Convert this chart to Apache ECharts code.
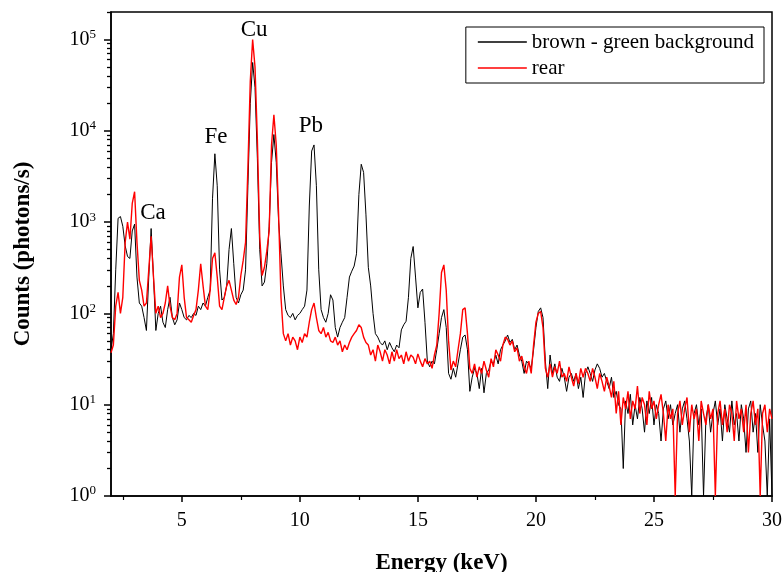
<!DOCTYPE html>
<html>
<head>
<meta charset="utf-8">
<script src="https://cdn.jsdelivr.net/npm/echarts@6/dist/echarts.min.js"></script>
<style>
	html, body { margin: 0; padding: 0; background: #fff; }
	#chart { width: 784px; height: 572px; }
</style>
</head>
<body>
<div id="chart"></div>
<script>
// energy channels (keV)
var energy = [
	2.0, 2.1, 2.2, 2.3, 2.4, 2.5, 2.6, 2.7, 2.8, 2.9,
	3.0, 3.1, 3.2, 3.3, 3.4, 3.5, 3.6, 3.7, 3.8, 3.9,
	4.0, 4.1, 4.2, 4.3, 4.4, 4.5, 4.6, 4.7, 4.8, 4.9,
	5.0, 5.1, 5.2, 5.3, 5.4, 5.5, 5.6, 5.7, 5.8, 5.9,
	6.0, 6.1, 6.2, 6.3, 6.4, 6.5, 6.6, 6.7, 6.8, 6.9,
	7.0, 7.1, 7.2, 7.3, 7.4, 7.5, 7.6, 7.7, 7.8, 7.9,
	8.0, 8.1, 8.2, 8.3, 8.4, 8.5, 8.6, 8.7, 8.8, 8.9,
	9.0, 9.1, 9.2, 9.3, 9.4, 9.5, 9.6, 9.7, 9.8, 9.9,
	10.0, 10.1, 10.2, 10.3, 10.4, 10.5, 10.6, 10.7, 10.8, 10.9,
	11.0, 11.1, 11.2, 11.3, 11.4, 11.5, 11.6, 11.7, 11.8, 11.9,
	12.0, 12.1, 12.2, 12.3, 12.4, 12.5, 12.6, 12.7, 12.8, 12.9,
	13.0, 13.1, 13.2, 13.3, 13.4, 13.5, 13.6, 13.7, 13.8, 13.9,
	14.0, 14.1, 14.2, 14.3, 14.4, 14.5, 14.6, 14.7, 14.8, 14.9,
	15.0, 15.1, 15.2, 15.3, 15.4, 15.5, 15.6, 15.7, 15.8, 15.9,
	16.0, 16.1, 16.2, 16.3, 16.4, 16.5, 16.6, 16.7, 16.8, 16.9,
	17.0, 17.1, 17.2, 17.3, 17.4, 17.5, 17.6, 17.7, 17.8, 17.9,
	18.0, 18.1, 18.2, 18.3, 18.4, 18.5, 18.6, 18.7, 18.8, 18.9,
	19.0, 19.1, 19.2, 19.3, 19.4, 19.5, 19.6, 19.7, 19.8, 19.9,
	20.0, 20.1, 20.2, 20.3, 20.4, 20.5, 20.6, 20.7, 20.8, 20.9,
	21.0, 21.1, 21.2, 21.3, 21.4, 21.5, 21.6, 21.7, 21.8, 21.9,
	22.0, 22.1, 22.2, 22.3, 22.4, 22.5, 22.6, 22.7, 22.8, 22.9,
	23.0, 23.1, 23.2, 23.3, 23.4, 23.5, 23.6, 23.7, 23.8, 23.9,
	24.0, 24.1, 24.2, 24.3, 24.4, 24.5, 24.6, 24.7, 24.8, 24.9,
	25.0, 25.1, 25.2, 25.3, 25.4, 25.5, 25.6, 25.7, 25.8, 25.9,
	26.0, 26.1, 26.2, 26.3, 26.4, 26.5, 26.6, 26.7, 26.8, 26.9,
	27.0, 27.1, 27.2, 27.3, 27.4, 27.5, 27.6, 27.7, 27.8, 27.9,
	28.0, 28.1, 28.2, 28.3, 28.4, 28.5, 28.6, 28.7, 28.8, 28.9,
	29.0, 29.1, 29.2, 29.3, 29.4, 29.5, 29.6, 29.7, 29.8, 29.9,
	30.0
];

// brown - green background (black)
var brownGreen = [
	40, 60, 300, 1100, 1150, 900, 550, 420, 400, 800,
	950, 250, 130, 120, 90, 65, 250, 850, 250, 65,
	100, 120, 80, 70, 110, 150, 90, 75, 85, 130,
	110, 90, 85, 95, 90, 100, 95, 120, 110, 130,
	120, 150, 180, 1800, 5600, 2500, 300, 140, 150, 200,
	500, 850, 350, 150, 130, 160, 180, 300, 2500, 20000,
	56000, 30000, 5000, 500, 200, 220, 350, 900, 4500, 9100,
	4500, 1000, 450, 200, 110, 95, 90, 100, 85, 95,
	100, 110, 120, 180, 1500, 6000, 7000, 2500, 300, 110,
	90, 80, 100, 160, 140, 70, 55, 70, 80, 90,
	150, 250, 290, 330, 450, 2000, 4300, 3500, 1200, 320,
	200, 100, 60, 55, 48, 45, 50, 40, 48, 42,
	38, 45, 42, 66, 75, 82, 150, 400, 540, 250,
	115, 170, 185, 80, 30, 26, 30, 28, 40, 60,
	90, 110, 70, 22, 19, 25, 20, 28, 40, 55,
	58, 40, 14, 20, 25, 22, 15, 25, 13.5, 22,
	24, 30, 28, 35, 28, 40, 45, 50, 58, 48,
	52, 40, 45, 35, 30, 22, 30, 28, 25, 40,
	70, 105, 115, 90, 30, 15, 35, 22, 28, 20,
	18, 25, 20, 14, 20, 22, 18, 22, 15, 20,
	12, 22, 26, 22, 18, 24, 28, 25, 20, 22,
	18, 15, 20, 12, 14, 10, 9, 2, 11, 8,
	13, 6, 10, 7, 12, 9, 5, 11, 8, 12,
	6, 10, 8, 4, 9, 11, 7, 10, 6, 8,
	10, 5, 9, 11, 7, 4, 1, 8, 10, 6,
	9, 1, 7, 10, 5, 8, 11, 6, 9, 4,
	10, 7, 5, 11, 6, 8, 4, 10, 7, 3,
	9, 11, 5, 8, 3, 10, 6, 4, 1, 7,
	1
];

// rear (red)
var rear = [
	37, 45, 120, 170, 100, 150, 600, 1000, 650, 1600,
	2150, 600, 230, 180, 120, 130, 300, 700, 250, 100,
	120, 90, 100, 130, 200, 120, 90, 85, 100, 250,
	340, 150, 90, 85, 80, 95, 110, 180, 350, 200,
	120, 110, 180, 400, 460, 250, 120, 110, 150, 200,
	230, 180, 140, 125, 150, 260, 380, 600, 4000, 35000,
	100000, 50000, 8000, 700, 260, 320, 480, 800, 7000, 15000,
	7000, 1200, 150, 60, 50, 60, 45, 55, 50, 40,
	55, 48, 60, 55, 80, 110, 130, 90, 65, 60,
	70, 55, 62, 50, 48, 55, 45, 50, 38, 45,
	40, 48, 55, 60, 65, 75, 70, 55, 48, 45,
	35, 40, 30, 45, 38, 30, 40, 35, 28, 38,
	30, 40, 32, 35, 28, 38, 30, 35, 33, 28,
	36, 30, 26, 32, 28, 30, 25, 35, 45, 100,
	280, 340, 180, 50, 24, 30, 26, 40, 60, 110,
	115, 60, 25, 22, 28, 20, 26, 22, 30, 24,
	20, 32, 26, 40, 35, 30, 45, 55, 52, 45,
	50, 38, 42, 30, 34, 26, 22, 30, 22, 45,
	80, 100, 105, 70, 25, 20, 28, 20, 26, 22,
	30, 20, 22, 18, 26, 20, 16, 22, 17, 25,
	20, 25, 22, 18, 25, 20, 15, 22, 18, 14,
	20, 16, 12, 18, 8, 14, 6, 12, 9, 14,
	7, 11, 9, 16, 8, 12, 10, 6, 14, 9,
	11, 7, 10, 13, 8, 4, 10, 7, 9, 1,
	8, 11, 6, 9, 12, 5, 10, 7, 9, 4,
	11, 8, 6, 10, 7, 9, 1, 8, 11, 6,
	9, 5, 10, 8, 4, 11, 7, 9, 5, 10,
	3, 8, 11, 6, 9, 1, 8, 10, 5, 9,
	7
];

// element labels: [text, energy, counts]
var peakLabels = [
	["Ca", 3.78, 1250],
	["Fe", 6.45, 8500],
	["Cu", 8.06, 128000],
	["Pb", 10.47, 11200]
];

var xLabelValues = [5, 10, 15, 20, 25, 30];
var xMinorValues = [2.5, 7.5, 12.5, 17.5, 22.5, 27.5];
var yLabelValues = [1, 10, 100, 1000, 10000, 100000];
var yMax = 200000;

var font = "'Liberation Serif', 'Times New Roman', serif";

function pairs(values) {
	return values.map(function(v, i) {
		return [energy[i], v];
	});
}

// minor ticks at 2..9 of each decade, placed on a linear axis in log10 units
var yMinorLogs = [];
yLabelValues.forEach(function(decade) {
	for (var k = 2; k <= 9; k++) {
		if (decade * k <= yMax) {
			yMinorLogs.push(Math.log10(decade * k));
		}
	}
});

var chart = echarts.init(document.getElementById("chart"), null, {renderer: "canvas"});

var option = {
	animation: false,
	backgroundColor: "#fff",
	textStyle: {fontFamily: font, color: "#000"},
	grid: {
		left: 111,
		right: 12,
		top: 12,
		bottom: 76,
		containLabel: false,
		outerBoundsMode: "none",
		show: true,
		borderColor: "#000",
		borderWidth: 1.5,
		backgroundColor: "transparent"
	},
	legend: {
		orient: "vertical",
		right: 20,
		top: 27,
		data: ["brown - green background", "rear"],
		icon: "rect",
		itemWidth: 49,
		itemHeight: 1.5,
		itemGap: 4,
		padding: [4, 10, 4, 12],
		borderColor: "#000",
		borderWidth: 1,
		borderRadius: 0,
		backgroundColor: "#fff",
		textStyle: {fontFamily: font, fontSize: 21, color: "#000", lineHeight: 22}
	},
	xAxis: [{
		type: "value",
		min: 2,
		max: 30,
		name: "Energy (keV)",
		nameLocation: "middle",
		nameGap: 56,
		nameTextStyle: {fontFamily: font, fontSize: 23, fontWeight: "bold", color: "#000"},
		axisLine: {show: true, onZero: false, lineStyle: {color: "#000", width: 1.5}},
		axisTick: {show: true, inside: false, length: 6, customValues: xLabelValues, lineStyle: {color: "#000", width: 1.5}},
		axisLabel: {show: true, margin: 15, fontFamily: font, fontSize: 20, color: "#000", customValues: xLabelValues},
		splitLine: {show: false}
	}, {
		// minor ticks only
		type: "value",
		position: "bottom",
		min: 2,
		max: 30,
		axisLine: {show: false},
		axisTick: {show: true, inside: false, length: 4, customValues: xMinorValues, lineStyle: {color: "#000", width: 1.2}},
		axisLabel: {show: false},
		splitLine: {show: false}
	}],
	yAxis: [{
		type: "log",
		logBase: 10,
		min: 1,
		max: yMax,
		name: "Counts (photons/s)",
		nameLocation: "middle",
		nameGap: 76,
		nameTextStyle: {fontFamily: font, fontSize: 23, fontWeight: "bold", color: "#000"},
		axisLine: {show: true, lineStyle: {color: "#000", width: 1.5}},
		axisTick: {show: true, inside: false, length: 7, customValues: yLabelValues, lineStyle: {color: "#000", width: 1.5}},
		axisLabel: {
			show: true,
			margin: 15,
			customValues: yLabelValues,
			formatter: function(value) {
				var exp = Math.round(Math.log(value) / Math.LN10);
				return "{b|10}{s|" + exp + "}";
			},
			rich: {
				b: {fontFamily: font, fontSize: 20, color: "#000"},
				s: {fontFamily: font, fontSize: 13, color: "#000", padding: [0, 0, 10, 0]}
			}
		},
		splitLine: {show: false}
	}, {
		// minor ticks only (log10 units)
		type: "value",
		position: "left",
		min: 0,
		max: Math.log10(yMax),
		axisLine: {show: false},
		axisTick: {show: true, inside: false, length: 4, customValues: yMinorLogs, lineStyle: {color: "#000", width: 1.3}},
		axisLabel: {show: false},
		splitLine: {show: false}
	}],
	series: [{
		name: "brown - green background",
		type: "line",
		data: pairs(brownGreen),
		showSymbol: false,
		symbol: "none",
		color: "#000",
		lineStyle: {color: "#000", width: 1},
		markPoint: {
			symbol: "circle",
			symbolSize: 0,
			label: {
				show: true,
				position: "inside",
				fontFamily: font,
				fontSize: 23,
				color: "#000",
				formatter: function(p) { return p.name; }
			},
			data: peakLabels.map(function(p) {
				return {name: p[0], coord: [p[1], p[2]]};
			})
		}
	}, {
		name: "rear",
		type: "line",
		data: pairs(rear),
		showSymbol: false,
		symbol: "none",
		color: "#f00",
		lineStyle: {color: "#f00", width: 1.4}
	}]
};

chart.setOption(option);
</script>
</body>
</html>
